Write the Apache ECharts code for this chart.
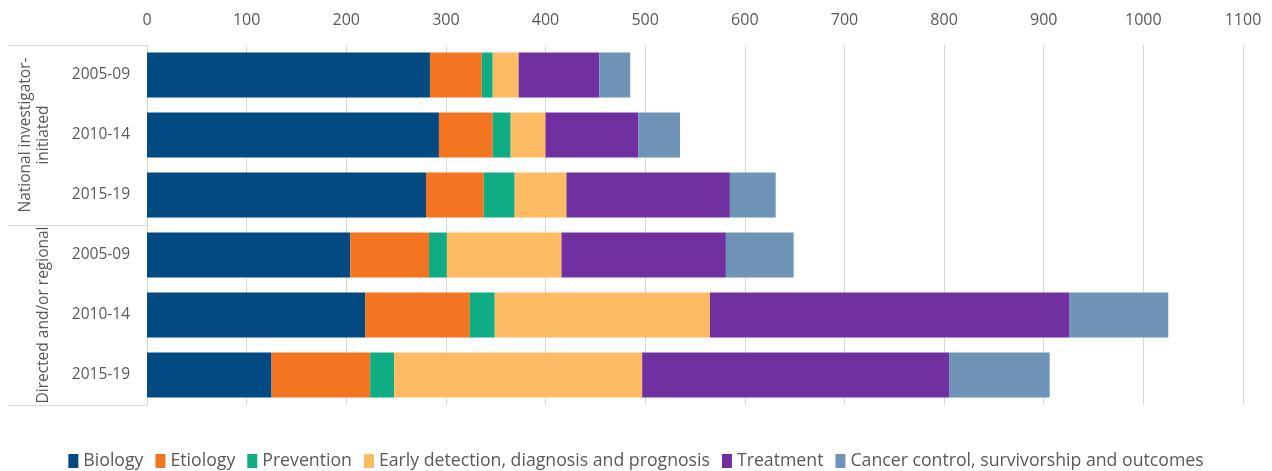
<!DOCTYPE html>
<html>
<head>
<meta charset="utf-8">
<title>Research funding by category</title>
<script src="https://cdn.jsdelivr.net/npm/echarts@6/dist/echarts.min.js"></script>
<style>
  html, body { margin: 0; padding: 0; background: #ffffff; }
  #chart { width: 1272px; height: 471px; }
</style>
</head>
<body>
<div id="chart"></div>
<script>
// Period labels, in order from top to bottom
const periods = ['2005-09', '2010-14', '2015-19', '2005-09', '2010-14', '2015-19'];
// Funding-stream groups, each covering three periods
const groups = ['National investigator-\ninitiated', 'Directed and/or regional'];
// Research categories (stack order)
const categories = [
  'Biology',
  'Etiology',
  'Prevention',
  'Early detection, diagnosis and prognosis',
  'Treatment',
  'Cancer control, survivorship and outcomes'
];
// Values per category, one entry per period row
const biology      = [284, 293, 280, 204, 219, 125];
const etiology     = [52, 54, 58, 79, 105, 99];
const prevention   = [11, 18, 31, 18, 25, 24];
const earlyDetect  = [26, 35, 52, 115, 216, 249];
const treatment    = [81, 93, 164, 165, 361, 308];
const cancerCtrl   = [31, 42, 46, 68, 99, 101];
// Value axis ticks
const axisMin = 0, axisMax = 1100, axisStep = 100;

const seriesValues = [biology, etiology, prevention, earlyDetect, treatment, cancerCtrl];
const colors = ['#034A82', '#F47521', '#10AD85', '#FDBB63', '#70309F', '#6F94B7'];
const fontFamily = '"Open Sans", "Noto Sans", sans-serif';
const textColor = '#595959';
const lineColor = '#d9d9d9';

const chart = echarts.init(document.getElementById('chart'), null, { renderer: 'canvas' });

chart.setOption({
  animation: false,
  textStyle: { fontFamily: fontFamily },
  color: colors,
  grid: { left: 147, right: 29, top: 45, bottom: 66, containLabel: false },
  legend: {
    data: categories,
    top: 447,
    left: 'center',
    icon: 'rect',
    itemWidth: 10,
    itemHeight: 14,
    itemGap: 12,
    textStyle: { color: textColor, fontSize: 17.7, fontFamily: fontFamily, padding: [0, 0, 0, 0] }
  },
  xAxis: {
    type: 'value',
    position: 'top',
    min: axisMin,
    max: axisMax,
    interval: axisStep,
    axisLine: { show: false },
    axisTick: { show: false },
    axisLabel: { color: textColor, fontSize: 16, margin: 17, formatter: (v) => String(v) },
    splitLine: { show: true, lineStyle: { color: lineColor, width: 1 } }
  },
  yAxis: [
    {
      type: 'category',
      data: periods,
      inverse: true,
      axisLine: { show: true, lineStyle: { color: lineColor, width: 1 } },
      axisTick: { show: false },
      axisLabel: { color: textColor, fontSize: 15.5, margin: 17, interval: 0 }
    },
    {
      type: 'category',
      data: groups,
      inverse: true,
      position: 'left',
      offset: 0,
      axisLine: { show: false },
      axisTick: { show: true, length: 138, interval: 0, lineStyle: { color: lineColor, width: 1 } },
      axisLabel: {
        color: textColor, fontSize: 15.5, lineHeight: 18,
        rotate: 90, margin: 94, interval: 0, align: 'center', verticalAlign: 'bottom'
      }
    }
  ],
  series: categories.map((name, i) => ({
    name: name,
    type: 'bar',
    stack: 'total',
    barWidth: '75%',
    yAxisIndex: 0,
    data: seriesValues[i]
  }))
});
</script>
</body>
</html>
